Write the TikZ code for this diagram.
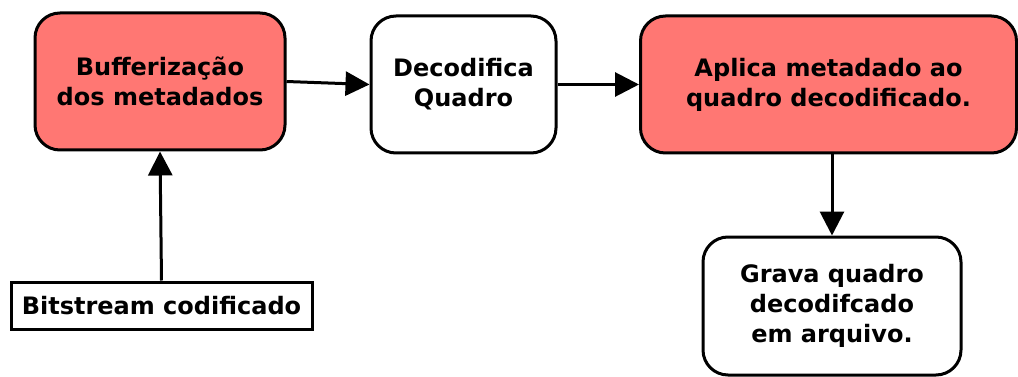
\documentclass[tikz,border=0pt]{standalone}
\usepackage{fontspec}
\setmainfont{DejaVu Sans}
\usetikzlibrary{arrows.meta}
\definecolor{boxred}{RGB}{255,119,115}
\begin{document}
\begin{tikzpicture}[x=1pt,y=-1pt,
  box/.style={draw=black,line width=3pt,rounded corners=25pt,align=center,font=\fontsize{24}{30}\selectfont\bfseries,inner sep=0pt},
  sq/.style={draw=black,line width=3pt,align=center,font=\fontsize{24}{30}\selectfont\bfseries,inner sep=0pt},
  arr/.style={line width=3pt,-{Triangle[length=24pt,width=24pt]}}]
\useasboundingbox (0,0) rectangle (1018,377);
\node[box,fill=boxred,minimum width=250pt,minimum height=137pt] (buf) at (160,81.5) {Bufferização\\dos metadados};
\node[box,fill=white,minimum width=185pt,minimum height=137pt] (dec) at (463.5,84.5) {Decodifica\\Quadro};
\node[box,fill=boxred,minimum width=376pt,minimum height=137pt] (apl) at (828.5,84.5) {Aplica metadado ao\\quadro decodificado.};
\node[box,fill=white,minimum width=258pt,minimum height=138pt] (grv) at (832,306) {Grava quadro\\decodifcado\\em arquivo.};
\node[sq,fill=white,minimum width=301pt,minimum height=47pt] (bit) at (161.5,305.5) {Bitstream codificado};
\draw[arr] (buf.east) -- (dec.west);
\draw[arr] (dec.east) -- (apl.west);
\draw[arr] (bit.north) -- (buf.south);
\draw[arr] (apl.south -| grv.north) -- (grv.north);
\end{tikzpicture}
\end{document}
